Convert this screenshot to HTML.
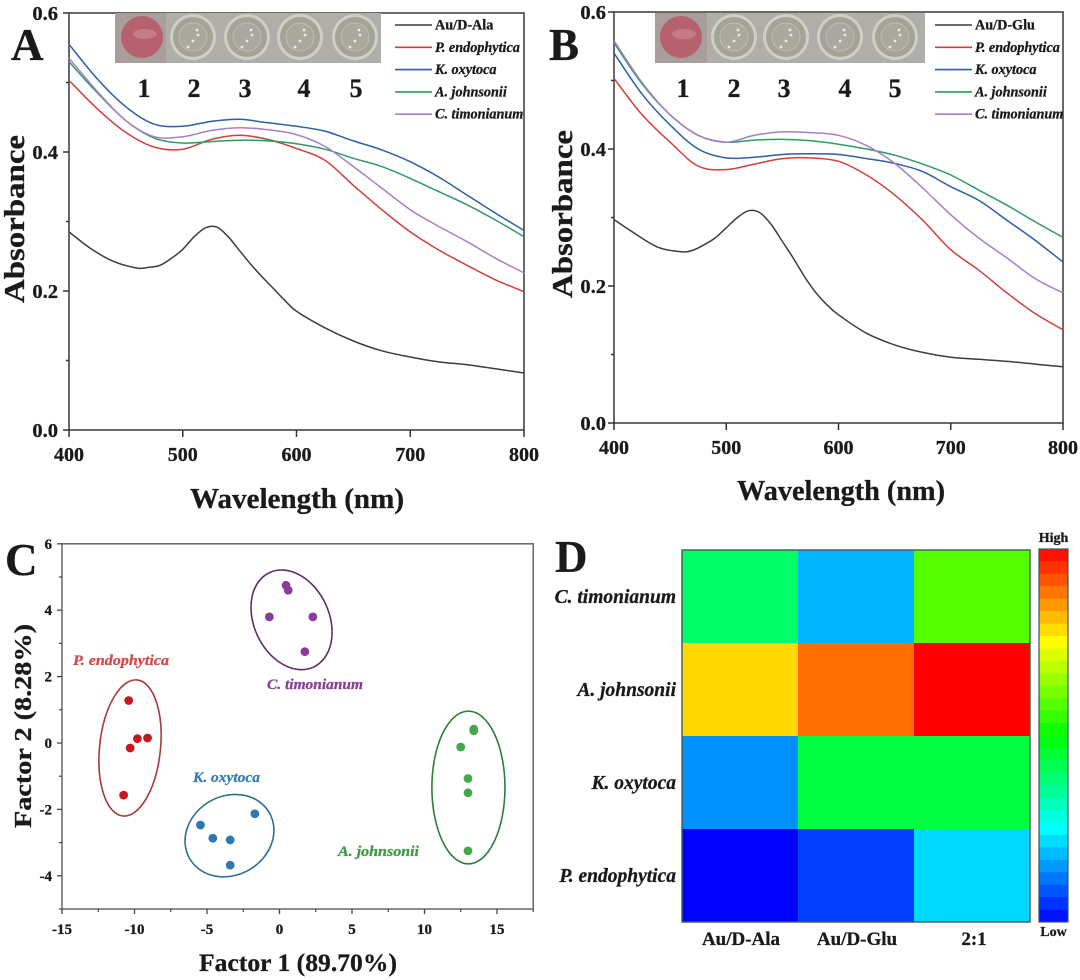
<!DOCTYPE html>
<html lang="en">
<head>
<meta charset="utf-8">
<title>Absorbance spectra, PCA and heatmap</title>
<style>
html,body{margin:0;padding:0;background:#fff;width:1080px;height:980px;overflow:hidden}
svg{display:block;filter:blur(0.35px)}
text{font-family:"Liberation Serif",serif;font-weight:bold;fill:#1a1a1a;stroke:#1a1a1a;stroke-width:.3}
</style>
</head>
<body>
<svg id="fig" xmlns="http://www.w3.org/2000/svg" width="1080" height="980" viewBox="0 0 1080 980">
  <text x="11" y="60" font-size="45">A</text>
  <text x="549" y="60" font-size="45">B</text>
  <text x="5" y="575" font-size="45">C</text>
  <text x="555" y="572" font-size="45">D</text>
  <text x="297" y="508" font-size="29" text-anchor="middle" textLength="214" lengthAdjust="spacingAndGlyphs">Wavelength (nm)</text>
  <text x="841" y="500" font-size="29" text-anchor="middle" textLength="208" lengthAdjust="spacingAndGlyphs">Wavelength (nm)</text>
  <text transform="translate(24,219) rotate(-90)" font-size="28" text-anchor="middle" textLength="168" lengthAdjust="spacingAndGlyphs">Absorbance</text>
  <text transform="translate(572,214) rotate(-90)" font-size="28" text-anchor="middle" textLength="168" lengthAdjust="spacingAndGlyphs">Absorbance</text>
  <text x="298" y="971" font-size="25" text-anchor="middle" textLength="198" lengthAdjust="spacingAndGlyphs">Factor 1 (89.70%)</text>
  <text transform="translate(31,726) rotate(-90)" font-size="24" text-anchor="middle" textLength="204" lengthAdjust="spacingAndGlyphs">Factor 2 (8.28%)</text>
  <g id="panelA"></g>
  <g id="panelB"></g>
  <g id="panelC"></g>
  <g id="panelD"></g>
</svg>
<script>
// ---- spectra data ----
const wavelengths = [400,425,450,475,500,525,550,575,600,625,650,675,700,725,750,775,800];
const controlWavelengths = [400,420,440,460,470,480,490,500,510,520,530,540,550,560,570,580,590,600,625,650,675,700,725,750,775,800];
const spectrumXTicks = [400,500,600,700,800];
const spectrumYTicks = [0.0,0.2,0.4,0.6];
const spectrumYMinor = [0.1,0.3,0.5];
const aAuAla      = [.285,.260,.242,.233,.234,.237,.247,.260,.278,.291,.292,.278,.258,.238,.220,.203,.186,.171,.147,.128,.114,.105,.098,.094,.088,.082];
const aEndophytica= [.503,.462,.428,.407,.404,.418,.424,.418,.405,.388,.352,.317,.285,.259,.237,.216,.199];
const aOxytoca    = [.555,.505,.465,.440,.437,.444,.447,.442,.437,.430,.416,.403,.386,.364,.338,.312,.287];
const aJohnsonii  = [.530,.485,.445,.420,.413,.415,.417,.416,.412,.404,.391,.379,.362,.343,.324,.302,.278];
const aTimonianum = [.535,.487,.445,.422,.422,.431,.435,.432,.425,.408,.379,.348,.317,.293,.271,.247,.226];
const bAuGlu      = [.297,.275,.256,.250,.252,.260,.270,.285,.300,.310,.307,.290,.265,.240,.213,.190,.172,.158,.131,.114,.103,.096,.093,.090,.086,.082];
const bEndophytica= [.503,.450,.410,.375,.370,.378,.386,.387,.382,.362,.333,.296,.253,.223,.190,.160,.136];
const bOxytoca    = [.540,.480,.435,.400,.387,.388,.392,.393,.392,.386,.379,.367,.345,.325,.296,.267,.235];
const bJohnsonii  = [.555,.495,.450,.420,.410,.413,.414,.412,.407,.400,.391,.378,.362,.340,.318,.294,.271];
const bTimonianum = [.558,.497,.450,.420,.410,.420,.425,.424,.420,.405,.379,.343,.304,.270,.241,.211,.190];
const legendNamesA = ["Au/D-Ala","P. endophytica","K. oxytoca","A. johnsonii","C. timonianum"];
const legendNamesB = ["Au/D-Glu","P. endophytica","K. oxytoca","A. johnsonii","C. timonianum"];
const wellNumbers = ["1","2","3","4","5"];

// ---- scatter data ----
const factorXTicks = [-15,-10,-5,0,5,10,15];
const factorYTicks = [-4,-2,0,2,4,6];
const clusterNames = ["P. endophytica","K. oxytoca","A. johnsonii","C. timonianum"];
const endoF1 = [-10.4,-9.8,-9.1,-10.3,-10.75];
const endoF2 = [1.28,0.13,0.15,-0.15,-1.57];
const oxyF1 = [-5.45,-4.6,-3.4,-3.4,-1.7];
const oxyF2 = [-2.47,-2.87,-2.92,-3.68,-2.13];
const johnF1 = [13.4,13.4,12.5,13,13,13];
const johnF2 = [0.42,0.37,-0.12,-1.07,-1.5,-3.25];
const timoF1 = [0.45,0.6,-0.7,2.3,1.75];
const timoF2 = [4.75,4.6,3.8,3.8,2.75];
const ellipseCenterF1 = [-10.31,-3.45,13.03,0.83];
const ellipseCenterF2 = [-0.15,-2.79,-1.34,3.71];
const ellipseSpanF1 = [2.1,3.17,2.52,2.59];
const ellipseSpanF2 = [2.06,1.19,2.3,1.57];
const ellipseTilt = [6,-30,0,-25];

// ---- heatmap data ----
const heatRows = ["C. timonianum","A. johnsonii","K. oxytoca","P. endophytica"];
const heatCols = ["Au/D-Ala","Au/D-Glu","2:1"];
const heatTimonianum = [.40,.176,.583];
const heatJohnsonii  = [.788,.892,1.0];
const heatOxytoca    = [.141,.4375,.4375];
const heatEndophytica= [0,.063,.212];
const colorbarBands = 30;

// ---- helpers ----
const NS = "http://www.w3.org/2000/svg";
function mk(parent, tag, props){
  const e = document.createElementNS(NS, tag);
  for (const k in props) e.setAttribute(k, props[k]);
  parent.appendChild(e);
  return e;
}
function label(parent, x, y, str, size, extra){
  const e = mk(parent, "text", Object.assign({x:x, y:y, "font-size":size}, extra||{}));
  e.textContent = str;
  return e;
}
function smooth(pts){
  let d = "M" + pts[0][0].toFixed(1) + " " + pts[0][1].toFixed(1);
  for (let i = 0; i < pts.length - 1; i++){
    const p0 = pts[Math.max(i-1,0)], p1 = pts[i], p2 = pts[i+1], p3 = pts[Math.min(i+2,pts.length-1)];
    const c1x = p1[0] + (p2[0]-p0[0])/6, c1y = p1[1] + (p2[1]-p0[1])/6;
    const c2x = p2[0] - (p3[0]-p1[0])/6, c2y = p2[1] - (p3[1]-p1[1])/6;
    d += "C" + c1x.toFixed(1) + " " + c1y.toFixed(1) + " " + c2x.toFixed(1) + " " + c2y.toFixed(1) + " " + p2[0].toFixed(1) + " " + p2[1].toFixed(1);
  }
  return d;
}
const seriesColors = ["#3d3d3d","#d0403f","#2b5fa6","#2f9a62","#a77fc9"];
const seriesKeys = ["gold-control","p-endophytica","k-oxytoca","a-johnsonii","c-timonianum"];

function drawPlate(g, left, right, split, wells, pinkFill){
  const p = mk(g, "rect", {x:left, y:13, width:right-left, height:50, fill:"#b0aea8"});
  
  
  const ps = mk(g, "rect", {x:left, y:13, width:split-left, height:50, fill:"#a89e9c"});
  
  
  const dotDx = [4,5,0,-5], dotDy = [-7,-2,4,10];
  wells.forEach(function(cx, i){
    if (i > 0){
      const ring = mk(g, "circle", {cx:cx, cy:37, r:23, fill:"#cfcfc7"});
      
      
    }
    const inner = mk(g, "circle", {cx:cx, cy:37, r:i===0?21:20, fill:i===0?pinkFill:"#a3a398"});
    
    
    if (i === 0){
      const hl = mk(g, "ellipse", {cx:cx+3, cy:34, rx:12, ry:5, fill:"#d08a94", opacity:.65});
      
      
    } else {
      const c = mk(g, "circle", {cx:cx, cy:37, r:14, fill:"#a9a99f", stroke:"#bcbcb2", "stroke-width":1});
      
      
      dotDx.forEach(function(dx, k){
        const s = mk(g, "circle", {cx:cx+dx, cy:37+dotDy[k], r:1.4, fill:"#ecece4"});
        
        
      });
    }
  });
}

function drawSpectra(g, cfg){
  const sx = cfg.sx, sy = cfg.sy;
  const frame = mk(g, "rect", {x:sx(400), y:sy(.6), width:sx(800)-sx(400), height:sy(0)-sy(.6), fill:"#fff", stroke:"#444", "stroke-width":1.6});
  
  
  spectrumXTicks.forEach(function(t){
    const l = mk(g, "line", {x1:sx(t), x2:sx(t), y1:sy(0), y2:sy(0)+7, stroke:"#333", "stroke-width":1.5});
    
    
    const n = label(g, sx(t), cfg.xLabelY, String(t), 20, {"text-anchor":"middle"});
    
    
  });
  spectrumYTicks.forEach(function(t){
    const l = mk(g, "line", {x1:sx(400)-6, x2:sx(400), y1:sy(t), y2:sy(t), stroke:"#333", "stroke-width":1.5});
    
    
    const n = label(g, sx(400)-cfg.yLabelGap, sy(t)+7, t.toFixed(1), 20.5, {"text-anchor":"end"});
    
    
  });
  spectrumYMinor.forEach(function(t){
    const l = mk(g, "line", {x1:sx(400)-3, x2:sx(400), y1:sy(t), y2:sy(t), stroke:"#333", "stroke-width":1.5});
    
    
  });
  cfg.series.forEach(function(vals, i){
    const grid = i === 0 ? controlWavelengths : wavelengths;
    const pts = vals.map(function(v, j){ return [sx(grid[j]), sy(v)]; });
    const p = mk(g, "path", {d:smooth(pts), fill:"none", stroke:seriesColors[i], "stroke-width":1.5, "stroke-linejoin":"round"});
    
    
  });
  drawPlate(g, cfg.plate[0], cfg.plate[1], cfg.plate[2], cfg.wells, "#b6626e");
  cfg.numbers.forEach(function(x, i){
    const n = label(g, x, 97, wellNumbers[i], 26, {"text-anchor":"middle"});
    
    
  });
  cfg.legend.forEach(function(name, i){
    const y = 25 + i*22.3;
    const sw = mk(g, "line", {x1:cfg.legendX, x2:cfg.legendX+37, y1:y, y2:y, stroke:seriesColors[i], "stroke-width":1.6});
    
    
    const n = label(g, cfg.legendX+40, y+4.5, name, 14.2, i===0?{}:{"font-style":"italic"});
    
    
  });
}

// ---- panels A and B ----
const xA = function(w){ return 69 + (w-400)*1.1375; };
const yA = function(v){ return 430 - v*695; };
const xB = function(w){ return 614 + (w-400)*1.1225; };
const yB = function(v){ return 423 - v*685; };
drawSpectra(document.getElementById("panelA"), {
  id:"panel-a", sx:xA, sy:yA, xLabelY:461, yLabelGap:11,
  series:[aAuAla,aEndophytica,aOxytoca,aJohnsonii,aTimonianum], legend:legendNamesA,
  plate:[115,381,166], wells:[142,193,247,300,355], numbers:[144,194,245,304,356], legendX:395
});
drawSpectra(document.getElementById("panelB"), {
  id:"panel-b", sx:xB, sy:yB, xLabelY:454, yLabelGap:8,
  series:[bAuGlu,bEndophytica,bOxytoca,bJohnsonii,bTimonianum], legend:legendNamesB,
  plate:[655,925,707], wells:[681,734,786,840,895], numbers:[683,734,784,845,895], legendX:935
});

// ---- panel C ----
(function(){
  const g = document.getElementById("panelC");
  const fx = function(v){ return 279.5 + v*14.5; };
  const fy = function(v){ return 743 - v*33.2; };
  const frame = mk(g, "rect", {x:fx(-15), y:fy(6), width:fx(17.5)-fx(-15), height:fy(-5)-fy(6), fill:"#fff", stroke:"#666", "stroke-width":1.5});
  
  
  factorXTicks.forEach(function(t){
    const l = mk(g, "line", {x1:fx(t), x2:fx(t), y1:fy(-5), y2:fy(-5)+5, stroke:"#444", "stroke-width":1.3});
    
    
    const m = mk(g, "line", {x1:fx(t+2.5), x2:fx(t+2.5), y1:fy(-5), y2:fy(-5)+3, stroke:"#444", "stroke-width":1.2});
    
    
    const n = label(g, fx(t), 934, String(t), 15, {"text-anchor":"middle"});
    
    
  });
  factorYTicks.forEach(function(t){
    const l = mk(g, "line", {x1:fx(-15)-5, x2:fx(-15), y1:fy(t), y2:fy(t), stroke:"#444", "stroke-width":1.3});
    
    
    const m = mk(g, "line", {x1:fx(-15)-3, x2:fx(-15), y1:fy(t-1), y2:fy(t-1), stroke:"#444", "stroke-width":1.2});
    
    
    const n = label(g, fx(-15)-10, fy(t)+5, String(t), 15, {"text-anchor":"end"});
    
    
  });
  const sets = [[endoF1,endoF2],[oxyF1,oxyF2],[johnF1,johnF2],[timoF1,timoF2]];
  const dots = ["#c4191f","#2f78b2","#43a84d","#8b3c98"];
  const rings = ["#a8393c","#2f6f92","#2b8039","#5b2f6c"];
  const keys = ["p-endophytica","k-oxytoca","a-johnsonii","c-timonianum"];
  const textFill = ["#d34b4b","#3a7fb0","#3f9a48","#8a3e94"];
  const nameX = [73,193,338,267], nameY = [665,782,856,689], nameW = [96,67,81,96];
  sets.forEach(function(s, i){
    const cx = fx(ellipseCenterF1[i]), cy = fy(ellipseCenterF2[i]);
    const el = mk(g, "ellipse", {cx:cx, cy:cy, rx:ellipseSpanF1[i]*14.5, ry:ellipseSpanF2[i]*33.2, fill:"none", stroke:rings[i], "stroke-width":1.6, transform:"rotate("+ellipseTilt[i]+" "+cx+" "+cy+")"});
    
    
    s[0].forEach(function(v, j){
      const d = mk(g, "circle", {cx:fx(v), cy:fy(s[1][j]), r:4.4, fill:dots[i]});
      
      
    });
    const n = label(g, nameX[i], nameY[i], clusterNames[i], 14.5, {"font-style":"italic", style:"fill:"+textFill[i]+";stroke:"+textFill[i], textLength:nameW[i], lengthAdjust:"spacingAndGlyphs"});
    
    
  });
})();

// ---- panel D ----
(function(){
  const g = document.getElementById("panelD");
  const left = 682, top = 550, cw = 116, ch = 93;
  function jet(v){
    const t = Math.max(0, Math.min(1, v));
    let r = 0, gg = 0, b = 0;
    if (t < .25){ gg = t/.25; b = 1; }
    else if (t < .5){ gg = 1; b = 1-(t-.25)/.25; }
    else if (t < .75){ r = (t-.5)/.25; gg = 1; }
    else { r = 1; gg = 1-(t-.75)/.25; }
    return "rgb(" + Math.round(r*255) + "," + Math.round(gg*255) + "," + Math.round(b*255) + ")";
  }
  const matrix = [heatTimonianum,heatJohnsonii,heatOxytoca,heatEndophytica];
  matrix.forEach(function(row, i){
    row.forEach(function(v, j){
      const c = mk(g, "rect", {x:left+j*cw, y:top+i*ch, width:cw+.3, height:ch+.3, fill:jet(v)});
      
      
    });
    const n = label(g, left-6, top+i*ch+47+6, heatRows[i], 19.5, {"text-anchor":"end", "font-style":"italic"});
    
    
  });
  const border = mk(g, "rect", {x:left, y:top, width:cw*3, height:ch*4, fill:"none", stroke:"#3f5a55", "stroke-width":1.4});
  
  
  heatCols.forEach(function(name, j){
    const n = label(g, left+j*cw+(j===2?60:59), 945, name, 19, {"text-anchor":"middle"});
    
    
  });
  const barX = 1039, barW = 29, barTop = 549, barH = 373;
  for (let i = 0; i < colorbarBands; i++){
    const b = mk(g, "rect", {x:barX, y:barTop+i*barH/colorbarBands, width:barW, height:barH/colorbarBands+.4, fill:jet(1-(i+.5)/colorbarBands)});
    
    
  }
  const bf = mk(g, "rect", {x:barX, y:barTop, width:barW, height:barH, fill:"none", stroke:"#3b5560", "stroke-width":1.2});
  
  
  const hi = label(g, barX+14.5, 542, "High", 14, {"text-anchor":"middle"});
  
  
  const lo = label(g, barX+14.5, 936, "Low", 14, {"text-anchor":"middle"});
  
  
})();
</script>
</body>
</html>
